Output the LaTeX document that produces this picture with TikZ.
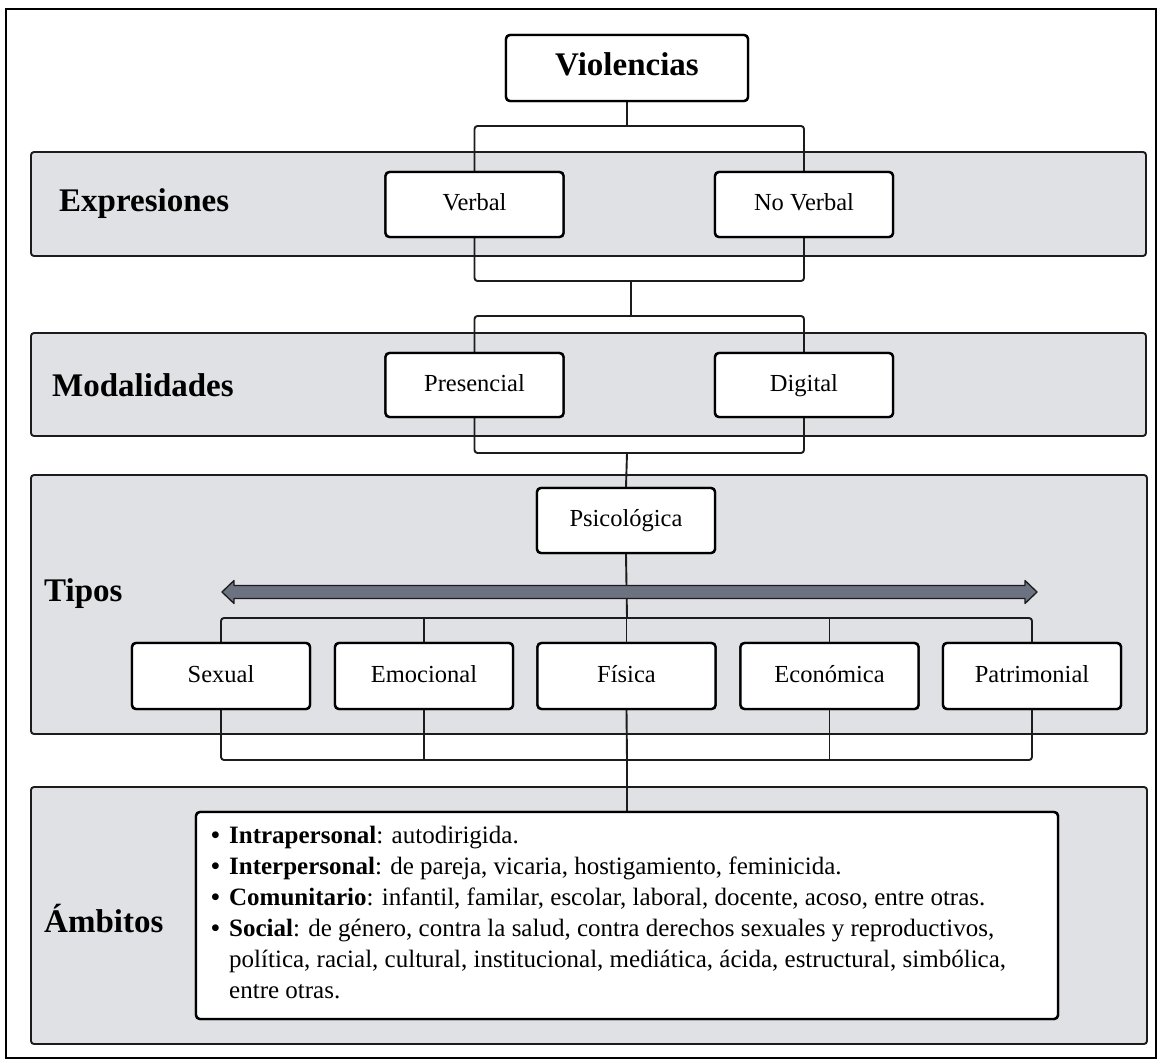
\documentclass[tikz,border=0pt]{standalone}
\usepackage{fontspec}
\setmainfont{Liberation Serif}

\definecolor{bandfill}{RGB}{223,225,229}
\definecolor{arrowfill}{RGB}{108,114,128}
\definecolor{linecol}{RGB}{28,28,28}

\begin{document}
\begin{tikzpicture}[x=1pt,y=-1pt,
  frame/.style={draw=black, line width=2.6pt},
  band/.style={draw=linecol, line width=1.9pt, fill=bandfill, rounded corners=3pt, inner sep=0pt},
  item/.style={draw=black, line width=2.4pt, fill=white, rounded corners=4pt,
    minimum width=178pt, minimum height=65pt, inner sep=0pt,
    text height=18pt, text depth=6pt,
    font=\fontsize{24.5}{29}\selectfont},
  headbox/.style={item, minimum width=242pt, minimum height=66pt,
    text height=24pt, text depth=8pt,
    font=\fontsize{33}{40}\selectfont\bfseries},
  bandlabel/.style={anchor=base west, inner sep=0pt, font=\fontsize{33}{40}\selectfont\bfseries},
  conn/.style={draw=linecol, line width=1.9pt, rounded corners=3pt},
  bigarrow/.style={draw=linecol, line width=1.3pt, fill=arrowfill, line join=round},
]
\useasboundingbox (0,0) rectangle (1161,1064);

% outer frame
\draw[frame] (6,9) rectangle (1156,1058);

% grey bands
\node[band, minimum width=1115pt, minimum height=104pt] (bandexp) at (588.5,204) {};
\node[band, minimum width=1115pt, minimum height=103pt] (bandmod) at (588.5,384.5) {};
\node[band, minimum width=1116pt, minimum height=259pt] (bandtip) at (589,604.5) {};
\node[band, minimum width=1116pt, minimum height=257pt] (bandamb) at (589,915.5) {};

% band titles
\node[bandlabel] (lblexp) at (59,212) {Expresiones};
\node[bandlabel] (lblmod) at (52,396) {Modalidades};
\node[bandlabel] (lbltip) at (44,601) {Tipos};
\node[bandlabel] (lblamb) at (44,932) {Ámbitos};

% junction points of the connectors
\coordinate (busA) at (627,126);
\coordinate (busB) at (631,281);
\coordinate (busC) at (631,316);
\coordinate (busD) at (627,453);
\coordinate (busE) at (627,618);
\coordinate (busF) at (627,760);

% boxes (placed first so connectors can refer to them; drawn again on top)
\path
  (627,68)      node[headbox] (viol) {Violencias}
  (474.5,204.5) node[item] (verbal) {Verbal}
  (804,204.5)   node[item] (noverbal) {No Verbal}
  (474.5,385)   node[item, minimum height=64pt] (presencial) {Presencial}
  (804,385)     node[item, minimum height=64pt] (digital) {Digital}
  (626,520.5)   node[item] (psico) {Psicológica}
  (221,676)     node[item, minimum height=66pt] (sexual) {Sexual}
  (424,676)     node[item, minimum height=66pt] (emoc) {Emocional}
  (626.5,676)   node[item, minimum height=66pt] (fisica) {Física}
  (829.5,676)   node[item, minimum height=66pt] (econ) {Económica}
  (1032,676)    node[item, minimum height=66pt] (patri) {Patrimonial}
  (627,915.5)   node[item, minimum width=862pt, minimum height=207pt] (ambitos) {};

% connectors
\draw[conn] (viol.south) -- (busA);
\draw[conn] (verbal.north) |- (busA) -| (noverbal.north);
\draw[conn] (verbal.south) |- (busB) -| (noverbal.south);
\draw[conn] (busB) -- (busC);
\draw[conn] (presencial.north) |- (busC) -| (digital.north);
\draw[conn] (presencial.south) |- (busD) -| (digital.south);
\draw[conn] (busD) -- (psico.north);
\draw[conn] (psico.south) -- (busE);
\draw[conn] (sexual.north) |- (busE) -| (patri.north);
\draw[conn] (emoc.north) -- (emoc.north |- busE);
\draw[conn] (fisica.north) -- (fisica.north |- busE);
\draw[conn] (econ.north) -- (econ.north |- busE);
\draw[conn] (sexual.south) |- (busF) -| (patri.south);
\draw[conn] (emoc.south) -- (emoc.south |- busF);
\draw[conn] (econ.south) -- (econ.south |- busF);
\draw[conn] (fisica.south) -- (busF) -- (ambitos.north);

% two-headed arrow across the types
\draw[bigarrow] (222,592) -- (234,580.5) -- (234,585.5) -- (1025,585.5) -- (1025,580.5)
  -- (1037,592) -- (1025,603.5) -- (1025,598.5) -- (234,598.5) -- (234,603.5) -- cycle;

% boxes on top of the connectors
\path
  (627,68)      node[headbox] {Violencias}
  (474.5,204.5) node[item] {Verbal}
  (804,204.5)   node[item] {No Verbal}
  (474.5,385)   node[item, minimum height=64pt] {Presencial}
  (804,385)     node[item, minimum height=64pt] {Digital}
  (626,520.5)   node[item] {Psicológica}
  (221,676)     node[item, minimum height=66pt] {Sexual}
  (424,676)     node[item, minimum height=66pt] {Emocional}
  (626.5,676)   node[item, minimum height=66pt] {Física}
  (829.5,676)   node[item, minimum height=66pt] {Económica}
  (1032,676)    node[item, minimum height=66pt] {Patrimonial}
  (627,915.5)   node[item, minimum width=862pt, minimum height=207pt] {};

% list of scopes
\node[anchor=north west, inner sep=0pt, align=left,
      font=\fontsize{25}{31}\selectfont] (amblist) at (211,826) {%
\makebox[18pt][l]{\textbf{•}}\textbf{Intrapersonal}: autodirigida.\\
\makebox[18pt][l]{\textbf{•}}\textbf{Interpersonal}: de pareja, vicaria, hostigamiento, feminicida.\\
\makebox[18pt][l]{\textbf{•}}\textbf{Comunitario}: infantil, familar, escolar, laboral, docente, acoso, entre otras.\\
\makebox[18pt][l]{\textbf{•}}\textbf{Social}: de género, contra la salud, contra derechos sexuales y reproductivos,\\
\hspace*{18pt}política, racial, cultural, institucional, mediática, ácida, estructural, simbólica,\\
\hspace*{18pt}entre otras.};
\end{tikzpicture}
\end{document}
